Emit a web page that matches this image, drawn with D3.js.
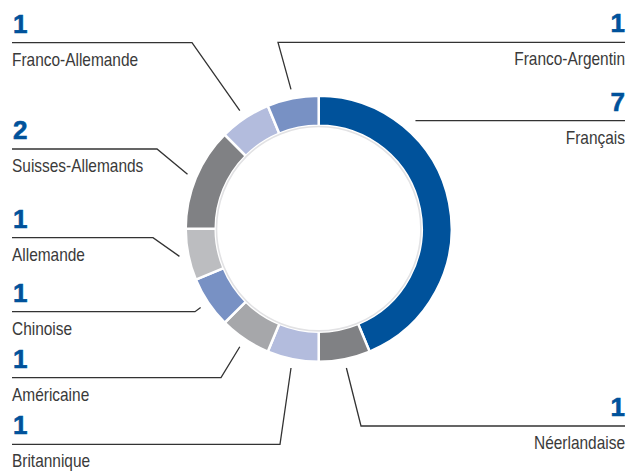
<!DOCTYPE html>
<html><head><meta charset="utf-8">
<script src="https://cdn.jsdelivr.net/npm/d3@7"></script>
<style>
html,body{margin:0;padding:0;background:#fff;}
svg{display:block;}
.num{font-family:"Liberation Sans Narrow","Liberation Sans",Arial,sans-serif;font-weight:900;font-size:26px;fill:#00529b;stroke:#00529b;stroke-width:0.6px;}
.lab{font-family:"Liberation Sans Narrow","Liberation Sans",Arial,sans-serif;font-size:18.5px;fill:#3a3a3a;}
</style></head>
<body>
<script>
// ---- data ----
const categories = ["Français","Néerlandaise","Britannique","Américaine","Chinoise","Allemande","Suisses-Allemands","Franco-Allemande","Franco-Argentin"];
const values = [7,1,1,1,1,1,2,1,1];
const colors = ["#00529b","#808184","#b3bcdd","#a6a7aa","#7891c4","#bcbdc0","#808184","#b3bcdd","#7891c4"];

// ---- label layout (annotation placement) ----
const labelSide = ["right","right","left","left","left","left","left","left","right"];
const labelLineY = [120.7,426,444.3,377.7,311.7,237.7,149,42.7,42.3];
const labelElbowX = [null,361,280,221,195,153,157,192,278];

const W = 630, H = 472;
const cx = 318.7, cy = 228.7, rOuter = 133, rInner = 103, rLead = 142;
const leftX = 12, rightX = 625;
const condense = 0.835;

const svg = d3.select("body").append("svg").attr("width", W).attr("height", H);

const data = categories.map((c,i)=>({name:c, value:values[i], color:colors[i], side:labelSide[i], lineY:labelLineY[i], elbowX:labelElbowX[i]}));

const pie = d3.pie().value(d=>d.value).sort(null);
const arcs = pie(data);
const arc = d3.arc().innerRadius(rInner).outerRadius(rOuter);

const g = svg.append("g").attr("transform", `translate(${cx},${cy})`);
g.selectAll("path.seg").data(arcs).join("path")
  .attr("class","seg")
  .attr("d", arc)
  .attr("fill", d=>d.data.color)
  .attr("stroke","#fff")
  .attr("stroke-width",2.5)
  .attr("stroke-linejoin","miter");

// subtle inner shadow edge
g.append("circle").attr("r", rInner-0.8).attr("fill","none").attr("stroke","#e2e2e4").attr("stroke-width",1.6);

// leader lines
const lineGen = d3.line();
arcs.forEach(a=>{
  const d = a.data;
  const mid = (a.startAngle + a.endAngle)/2;
  const outerEndX = d.side === "left" ? leftX : rightX;
  let pts;
  if (d.elbowX === null) {
    const rr = 145;
    const dy = d.lineY - cy;
    const ex = cx + Math.sqrt(rr*rr - dy*dy);
    pts = [[outerEndX, d.lineY],[ex, d.lineY]];
  } else {
    const ex = cx + rLead*Math.sin(mid);
    const ey = cy - rLead*Math.cos(mid);
    pts = [[outerEndX, d.lineY],[d.elbowX, d.lineY],[ex, ey]];
  }
  svg.append("path").attr("d", lineGen(pts)).attr("fill","none").attr("stroke","#333").attr("stroke-width",1.3);

  const anchor = d.side === "left" ? "start" : "end";
  svg.append("text").attr("class","num").attr("x", outerEndX + (d.side==="left"?1:0)).attr("y", d.lineY - 10)
    .attr("text-anchor", anchor).text(d.value);
  svg.append("text").attr("class","lab")
    .attr("transform", `translate(${outerEndX},${d.lineY + 23}) scale(${condense},1)`)
    .attr("text-anchor", anchor).text(d.name);
});
</script>
</body></html>
